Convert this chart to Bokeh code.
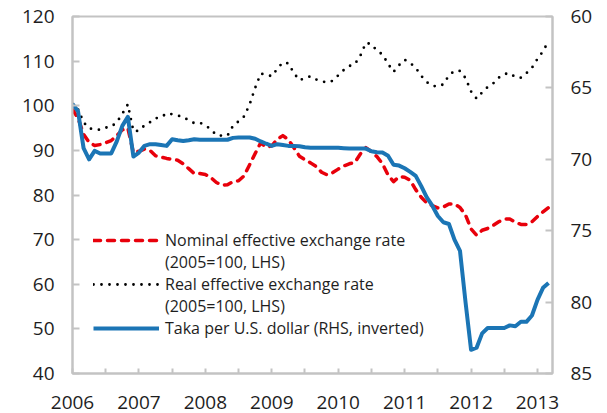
import pandas as pd
from bokeh.plotting import figure
from bokeh.models import Range1d, LinearAxis, FixedTicker, Legend, LegendItem
from bokeh.embed import file_html
from bokeh.resources import INLINE

# Monthly observations, Jan 2006 - Mar 2013
months = pd.date_range("2006-01-01", "2013-03-01", freq="MS")
x_years = list(months.year + (months.month - 1) / 12.0)

# Nominal effective exchange rate (2005=100, LHS)
neer = [99.2, 97.2, 93.6, 91.8, 91.1, 91.3, 91.7, 92.2, 93.3, 94.6,
        95.0, 89.5, 89.8, 90.3, 90.0, 88.8, 88.5, 88.2, 88.0, 87.8,
        87.0, 85.9, 84.8, 84.8, 84.6, 83.9, 82.8, 82.2, 82.3, 83.0,
        83.2, 84.3, 86.8, 89.3, 91.7, 90.7, 91.0, 92.5, 93.3, 92.4,
        90.6, 88.7, 87.9, 87.2, 86.4, 85.1, 84.5, 85.0, 85.8, 86.5,
        87.0, 87.3, 89.2, 90.6, 89.7, 88.6, 87.0, 84.5, 83.0, 84.1,
        84.0, 83.3, 81.2, 79.5, 78.2, 77.6, 77.1, 77.3, 78.0, 78.0,
        77.2, 75.5, 72.4, 71.0, 72.1, 72.5, 73.2, 74.0, 74.6, 74.6,
        73.9, 73.4, 73.4, 74.0, 75.2, 76.2, 77.2]

# Real effective exchange rate (2005=100, LHS)
reer = [100.4, 99.2, 96.3, 94.9, 94.8, 94.6, 95.1, 95.3, 96.3, 98.2,
        100.3, 94.3, 94.4, 95.6, 96.3, 97.2, 97.4, 98.3, 98.1, 97.8,
        97.5, 96.7, 96.1, 96.2, 95.6, 94.7, 93.4, 93.3, 93.3, 95.5,
        96.5, 97.6, 100.3, 104.0, 107.2, 107.0, 106.6, 108.3, 109.7, 109.5,
        107.3, 105.7, 106.2, 106.6, 105.9, 105.5, 105.2, 105.6, 106.8, 108.0,
        108.9, 109.3, 111.2, 114.1, 113.8, 112.3, 111.5, 109.4, 107.6, 109.1,
        110.3, 109.6, 108.5, 106.7, 105.3, 104.5, 104.3, 104.8, 106.8, 107.8,
        107.8, 106.2, 103.2, 101.6, 103.0, 104.2, 105.0, 106.3, 107.1, 107.3,
        106.4, 106.3, 107.3, 108.5, 110.5, 112.2, 114.5]

# Taka per U.S. dollar (RHS, inverted)
taka = [66.13, 66.63, 69.22, 70.00, 69.41, 69.59, 69.59, 69.59, 68.75, 67.66,
        67.03, 69.81, 69.53, 69.06, 68.94, 68.94, 69.00, 69.06, 68.59, 68.66,
        68.72, 68.66, 68.59, 68.63, 68.63, 68.63, 68.63, 68.63, 68.63, 68.50,
        68.47, 68.47, 68.47, 68.56, 68.75, 68.91, 69.06, 68.94, 69.00, 69.06,
        69.06, 69.09, 69.16, 69.19, 69.19, 69.19, 69.19, 69.19, 69.19, 69.22,
        69.25, 69.25, 69.25, 69.25, 69.44, 69.50, 69.53, 69.75, 70.38, 70.44,
        70.63, 70.88, 71.16, 71.88, 72.66, 73.25, 73.97, 74.41, 74.53, 75.63,
        76.41, 80.00, 83.34, 83.19, 82.19, 81.81, 81.81, 81.81, 81.81, 81.63,
        81.69, 81.38, 81.38, 80.94, 79.84, 79.00, 78.66]

year_ticks = list(range(2006, 2014))
half_year_ticks = [y + 0.5 for y in range(2006, 2013)]
lhs_ticks = list(range(40, 121, 10))
rhs_ticks = list(range(60, 86, 5))

legend_labels = ["Nominal effective exchange rate", "(2005=100, LHS)",
                 "Real effective exchange rate", "(2005=100, LHS)",
                 "Taka per U.S. dollar (RHS, inverted)"]

FONT = "Open Sans"
TEXT = "#1e1e1e"
GREY = "#c3c3c3"

p = figure(frame_width=480, frame_height=357,
           output_backend="svg", toolbar_location=None,
           x_range=Range1d(2006, 2013.226), y_range=Range1d(40, 120),
           min_border_left=72, min_border_right=55, min_border_top=16,
           min_border_bottom=40)
p.extra_y_ranges = {"rhs": Range1d(start=85, end=60)}

p.xgrid.visible = False
p.ygrid.visible = False
p.outline_line_color = GREY
p.outline_line_width = 2
p.background_fill_color = "white"
p.border_fill_color = "white"

r_neer = p.line(x_years, neer, line_color="#e8000b", line_width=3.5,
                line_dash="7 7", line_cap="round", line_join="round")
r_reer = p.line(x_years, reer, line_color="black", line_width=2.8,
                line_dash="0 8", line_cap="round", line_join="round")
r_taka = p.line(x_years, taka, line_color="#1b75b5", line_width=4,
                line_join="round", y_range_name="rhs")
blank1 = p.line([], [], line_alpha=0)
blank2 = p.line([], [], line_alpha=0)

rax = LinearAxis(y_range_name="rhs")
p.add_layout(rax, "right")

for ax in [p.yaxis[0], rax]:
    ax.major_tick_in = 7
    ax.major_tick_out = 0
    ax.minor_tick_in = 0
    ax.minor_tick_out = 0
    ax.major_label_standoff = 18
p.yaxis[0].ticker = FixedTicker(ticks=lhs_ticks)
rax.ticker = FixedTicker(ticks=rhs_ticks)

xa = p.xaxis[0]
xa.ticker = FixedTicker(ticks=year_ticks, minor_ticks=half_year_ticks)
xa.major_tick_in = 5
xa.major_tick_out = 0
xa.minor_tick_in = 5
xa.minor_tick_out = 0
xa.major_label_standoff = 22

for ax in [p.yaxis[0], rax, xa]:
    ax.axis_line_color = GREY
    ax.axis_line_width = 2
    ax.major_tick_line_color = GREY
    ax.major_tick_line_width = 2
    ax.minor_tick_line_color = GREY
    ax.minor_tick_line_width = 2
    ax.major_label_text_font = FONT
    ax.major_label_text_font_size = "19px"
    ax.major_label_text_color = TEXT

legend = Legend(items=[
    LegendItem(label=legend_labels[0], renderers=[r_neer]),
    LegendItem(label=legend_labels[1], renderers=[blank1]),
    LegendItem(label=legend_labels[2], renderers=[r_reer]),
    LegendItem(label=legend_labels[3], renderers=[blank2]),
    LegendItem(label=legend_labels[4], renderers=[r_taka]),
], location=(21, 34))
legend.padding = 0
legend.margin = 0
legend.spacing = 0
legend.glyph_width = 66
legend.glyph_height = 20
legend.label_height = 20
legend.label_standoff = 6
legend.border_line_alpha = 0
legend.background_fill_alpha = 0
legend.label_text_font = FONT
legend.label_text_font_size = "16px"
legend.label_text_color = TEXT
p.add_layout(legend, "center")

open("out.html", "w").write(file_html(p, INLINE))
